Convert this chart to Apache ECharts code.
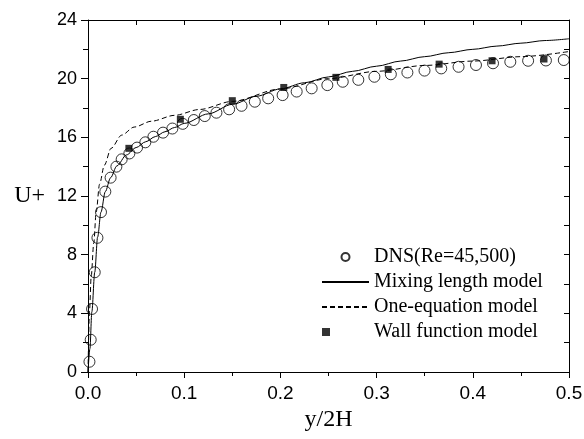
<!DOCTYPE html>
<html>
<head>
<meta charset="utf-8">
<script src="https://cdn.jsdelivr.net/npm/echarts@6/dist/echarts.min.js"></script>
<style>
html,body{margin:0;padding:0;background:#fff;}
#chart{width:584px;height:439px;}
</style>
</head>
<body>
<div id="chart"></div>
<script>
// DNS (Re=45,500)
const dnsX = [0.0015,0.0028,0.0042,0.007,0.0098,0.0135,0.018,0.0235,0.0295,0.035,0.043,0.051,0.0596,0.068,0.078,0.0877,0.0985,0.11,0.1214,0.1335,0.1467,0.1596,0.1734,0.1873,0.2023,0.2169,0.2325,0.2488,0.2648,0.281,0.2977,0.3148,0.332,0.3498,0.3672,0.3852,0.4033,0.421,0.439,0.4575,0.476,0.4946];
const dnsU = [0.7,2.2,4.3,6.8,9.15,10.9,12.3,13.25,14.0,14.5,14.9,15.3,15.66,16.04,16.32,16.6,16.92,17.18,17.45,17.68,17.91,18.15,18.43,18.66,18.88,19.12,19.34,19.56,19.79,19.92,20.13,20.3,20.42,20.55,20.7,20.81,20.93,21.05,21.15,21.22,21.24,21.27];
// Mixing length model
const mixX = [0,0.002,0.004,0.007,0.01,0.0135,0.018,0.0235,0.03,0.04,0.05,0.06,0.07,0.08,0.09,0.1,0.125,0.15,0.175,0.2,0.225,0.25,0.275,0.3,0.325,0.35,0.375,0.4,0.425,0.45,0.475,0.5];
const mixU = [0,1.6,4.1,6.8,9.2,10.9,12.3,13.25,14.05,14.8,15.3,15.7,16.05,16.38,16.67,16.95,17.6,18.25,18.8,19.3,19.72,20.12,20.5,20.85,21.2,21.5,21.77,22.0,22.22,22.42,22.6,22.72];
// One-equation model
const oneX = [0,0.0016,0.0033,0.006,0.0085,0.012,0.017,0.024,0.035,0.048,0.066,0.09,0.116,0.15,0.2,0.25,0.3,0.35,0.4,0.45,0.5];
const oneU = [0,4.2,6.5,8.8,10.9,12.8,14.1,15.25,16.15,16.7,17.1,17.5,17.9,18.45,19.3,20.0,20.5,20.9,21.2,21.5,21.85];
// Wall function model
const wallX = [0.0425,0.096,0.150,0.2035,0.2577,0.312,0.365,0.42,0.474];
const wallU = [15.25,17.23,18.5,19.4,20.09,20.63,20.99,21.22,21.34];

const seriesNames = ['DNS(Re=45,500)','Mixing length model','One-equation model','Wall function model'];
const xTickLabels = ['0.0','0.1','0.2','0.3','0.4','0.5'];
const yTickLabels = ['0','4','8','12','16','20','24'];

const pairs = (xs, ys) => xs.map((x, i) => [x, ys[i]]);

const chart = echarts.init(document.getElementById('chart'), null, {renderer: 'canvas'});
const serif = 'Liberation Serif';
const sans = 'Liberation Sans';
chart.setOption({
  animation: false,
  backgroundColor: '#fff',
  grid: {left: 88, right: 15, top: 20, bottom: 67, containLabel: false, outerBoundsMode: 'none'},
  legend: {
    orient: 'vertical',
    left: 321,
    top: 247,
    padding: 0,
    itemWidth: 47,
    itemHeight: 8,
    itemGap: 5,
    data: [
      {name: seriesNames[0]},
      {name: seriesNames[1], itemStyle: {opacity: 0}},
      {name: seriesNames[2], itemStyle: {opacity: 0}},
      {name: seriesNames[3]}
    ],
    textStyle: {fontFamily: serif, fontSize: 20, color: '#000'},
    inactiveColor: '#000'
  },
  xAxis: [{
    type: 'value', min: 0, max: 0.5, interval: 0.1, position: 'bottom',
    name: 'y/2H', nameLocation: 'middle', nameGap: 33,
    nameTextStyle: {fontFamily: serif, fontSize: 24, color: '#000'},
    axisLine: {show: true, onZero: false, lineStyle: {color: '#000', width: 1}},
    axisTick: {show: true, inside: false, length: 6, lineStyle: {color: '#000'}},
    minorTick: {show: true, splitNumber: 2, length: 4, lineStyle: {color: '#000'}},
    axisLabel: {margin: 12, fontFamily: sans, fontSize: 19, color: '#000',
      formatter: v => xTickLabels[Math.round(v * 10)]},
    splitLine: {show: false}
  }, {
    type: 'value', min: 0, max: 0.5, interval: 0.05, position: 'top',
    axisLine: {show: true, onZero: false, lineStyle: {color: '#000', width: 1}},
    axisTick: {show: true, inside: true, length: 5, lineStyle: {color: '#000'}},
    axisLabel: {show: false},
    splitLine: {show: false}
  }],
  yAxis: [{
    type: 'value', min: 0, max: 24, interval: 4, position: 'left',
    name: 'U+', nameLocation: 'middle', nameGap: 43, nameRotate: 0,
    nameTextStyle: {fontFamily: serif, fontSize: 24, color: '#000', padding: [30,0,0,0]},
    axisLine: {show: true, onZero: false, lineStyle: {color: '#000', width: 1}},
    axisTick: {show: true, inside: false, length: 7, lineStyle: {color: '#000'}},
    minorTick: {show: true, splitNumber: 2, length: 5, lineStyle: {color: '#000'}},
    axisLabel: {margin: 11, fontFamily: sans, fontSize: 18, color: '#000',
      formatter: v => yTickLabels[Math.round(v / 4)]},
    splitLine: {show: false}
  }, {
    type: 'value', min: 0, max: 24, interval: 2, position: 'right',
    axisLine: {show: true, onZero: false, lineStyle: {color: '#000', width: 1}},
    axisTick: {show: true, inside: true, length: 5, lineStyle: {color: '#000'}},
    axisLabel: {show: false},
    splitLine: {show: false}
  }],
  series: [{
    name: seriesNames[1], type: 'line', xAxisIndex: 0, yAxisIndex: 0,
    data: pairs(mixX, mixU), smooth: 0.3, smoothMonotone: 'x',
    showSymbol: false, symbol: 'none',
    lineStyle: {color: '#000', width: 1, type: 'solid'},
    itemStyle: {color: '#000'}, z: 2
  }, {
    name: seriesNames[2], type: 'line', xAxisIndex: 0, yAxisIndex: 0,
    data: pairs(oneX, oneU), smooth: 0.3, smoothMonotone: 'x',
    showSymbol: false, symbol: 'none',
    lineStyle: {color: '#000', width: 1, type: [5, 3]},
    itemStyle: {color: '#000'}, z: 2
  }, {
    name: seriesNames[0], type: 'scatter', xAxisIndex: 0, yAxisIndex: 0,
    data: pairs(dnsX, dnsU), symbol: 'circle', symbolSize: 11, clip: false,
    itemStyle: {color: 'rgba(255,255,255,0)', borderColor: '#000', borderWidth: 1}, z: 3
  }, {
    name: seriesNames[3], type: 'scatter', xAxisIndex: 0, yAxisIndex: 0,
    data: pairs(wallX, wallU), symbol: 'square', symbolSize: 7, clip: false,
    itemStyle: {color: '#000'}, z: 4
  }]
});
</script>
</body>
</html>
